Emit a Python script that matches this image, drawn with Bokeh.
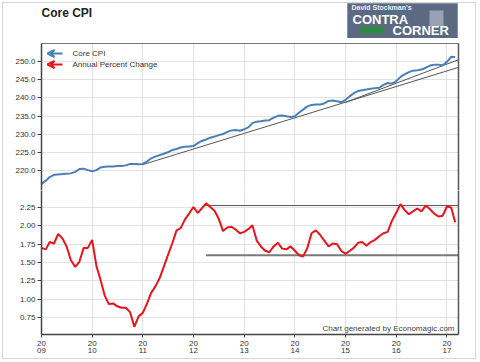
import pandas as pd
from bokeh.plotting import figure
from bokeh.layouts import column
from bokeh.models import (Range1d, FixedTicker, LinearAxis, NumeralTickFormatter, Label,
                          Arrow, VeeHead, BoxAnnotation, CustomJSTickFormatter)
from bokeh.embed import file_html
from bokeh.resources import INLINE

# ---------------- data ----------------
months = pd.date_range("2009-01-01", periods=99, freq="MS")

core_cpi = [
    216.4, 217.3, 218.3, 218.9, 219.0, 219.1, 219.2, 219.3, 219.7, 220.5, 220.6, 220.2,
    219.9, 220.2, 220.9, 221.1, 221.2, 221.2, 221.3, 221.3, 221.5, 221.9, 221.9, 221.8,
    221.9, 222.6, 223.4, 223.9, 224.3, 224.7, 225.1, 225.7, 226.0, 226.4, 226.6, 226.7,
    226.8, 227.6, 228.2, 228.6, 229.1, 229.4, 229.8, 230.1, 230.7, 231.1, 231.2, 231.0,
    231.4, 232.0, 233.1, 233.5, 233.6, 233.8, 233.9, 234.6, 235.1, 235.2, 235.0, 234.8,
    235.0, 236.0, 236.8, 237.7, 238.1, 238.2, 238.2, 238.5, 239.2, 239.3, 239.1, 238.8,
    239.5, 240.5, 241.3, 241.9, 242.1, 242.3, 242.5, 242.7, 242.8, 243.6, 244.1, 243.9,
    244.6, 245.8, 246.5, 247.1, 247.5, 247.6, 247.8, 248.3, 248.9, 249.1, 249.1, 249.0,
    249.9, 251.3, 251.2,
]

annual_pct = [
    1.70, 1.68, 1.78, 1.76, 1.89, 1.83, 1.72, 1.53, 1.44, 1.51, 1.70, 1.70,
    1.81, 1.45, 1.27, 1.05, 0.93, 0.94, 0.90, 0.88, 0.88, 0.82, 0.62, 0.76,
    0.81, 0.94, 1.08, 1.17, 1.28, 1.44, 1.60, 1.76, 1.94, 1.97, 2.09, 2.17,
    2.26, 2.18, 2.24, 2.31, 2.26, 2.21, 2.10, 1.93, 1.98, 1.99, 1.95, 1.90,
    1.92, 1.96, 2.01, 1.80, 1.72, 1.66, 1.64, 1.72, 1.77, 1.69, 1.68, 1.72,
    1.66, 1.60, 1.58, 1.70, 1.90, 1.94, 1.88, 1.80, 1.72, 1.76, 1.75, 1.66,
    1.62, 1.66, 1.70, 1.77, 1.78, 1.73, 1.78, 1.81, 1.86, 1.90, 1.92, 2.07,
    2.18, 2.30, 2.22, 2.16, 2.20, 2.24, 2.20, 2.28, 2.23, 2.17, 2.13, 2.14,
    2.27, 2.25, 2.05,
]

trend_a_dates = pd.to_datetime(["2011-01-01", "2017-03-25"])
trend_a_vals = [221.7, 248.4]
trend_b_dates = pd.to_datetime(["2015-01-01", "2017-03-25"])
trend_b_vals = [238.8, 250.5]
pct_high_dates = pd.to_datetime(["2012-03-10", "2017-03-25"])
pct_high_vals = [2.28, 2.28]
pct_low_dates = pd.to_datetime(["2012-04-01", "2017-03-31"])
pct_low_vals = [1.60, 1.60]

year_ticks = [pd.Timestamp(f"{y}-01-01").timestamp() * 1000 for y in range(2009, 2018)]
cpi_ticks = [220, 225, 230, 235, 240, 245, 250]
pct_ticks = [0.75, 1.00, 1.25, 1.50, 1.75, 2.00, 2.25]

# ---------------- styling ----------------
FONT = "Liberation Sans"
BLUE = "#4a7fb8"
RED = "#e8141c"
GRID = "#e2e2e2"
AXIS = "#444444"
W = 478
LEFT = 41
RIGHT = 20

x_range = Range1d(pd.Timestamp("2009-01-01"), pd.Timestamp("2017-03-25"))


def style_left_axis(ax, ticks, fmt):
    ax.ticker = FixedTicker(ticks=ticks)
    ax.formatter = NumeralTickFormatter(format=fmt)
    ax.major_label_text_font = FONT
    ax.major_label_text_font_size = "8px"
    ax.major_label_text_color = "#333333"
    ax.axis_line_color = AXIS
    ax.axis_line_width = 1.5
    ax.major_tick_line_color = AXIS
    ax.major_tick_out = 4
    ax.major_tick_in = 0
    ax.minor_tick_line_color = None
    ax.major_label_standoff = 2


def border_axis(color, width=1.2):
    return LinearAxis(ticker=FixedTicker(ticks=[]), major_label_text_font_size="0px",
                      major_tick_line_color=None, minor_tick_line_color=None,
                      axis_line_color=color, axis_line_width=width,
                      major_label_standoff=0, major_tick_out=0, major_tick_in=0)


def sbox(fig, l, r, b, t, **kw):
    fig.add_layout(BoxAnnotation(left=l, right=r, bottom=b, top=t,
                                 left_units="screen", right_units="screen",
                                 bottom_units="screen", top_units="screen", **kw))


def slabel(fig, x, y, text, size, color, bold=False, align="left"):
    fig.add_layout(Label(x=x, y=y, x_units="screen", y_units="screen", text=text,
                         text_font=FONT, text_font_size=size,
                         text_font_style="bold" if bold else "normal",
                         text_color=color, text_baseline="middle", text_align=align))


# ---------------- header (title + logo); frame aligned with the plots ----------------
hdr = figure(width=W, height=38, x_range=Range1d(0, 1), y_range=Range1d(0, 1),
             x_axis_location=None, y_axis_location=None,
             output_backend="svg", toolbar_location=None,
             min_border_left=LEFT, min_border_right=RIGHT, min_border_top=0, min_border_bottom=0)
hdr.outline_line_color = None
hdr.grid.visible = False
hdr.background_fill_color = None
hdr.border_fill_color = None
slabel(hdr, 0, 26, "Core CPI", "12px", "#222222", bold=True)
sbox(hdr, 306, 416, 0, 35, fill_color="#5b6a82", fill_alpha=1.0, line_color="#3c4a5e", line_width=1)
sbox(hdr, 388, 402, 12, 28, fill_color="#d5d9e1", fill_alpha=0.5, line_color=None)
sbox(hdr, 319, 343, 5, 12, fill_color="#2f8a43", fill_alpha=1.0, line_color=None)
slabel(hdr, 310, 31, "David Stockman's", "7px", "#eef1f7", bold=True)
slabel(hdr, 311, 19, "CONTRA", "13px", "white", bold=True)
slabel(hdr, 351, 8, "CORNER", "13px", "white", bold=True)

# ---------------- top panel ----------------
p1 = figure(width=W, height=152, x_range=x_range, y_range=Range1d(214.6, 254.95),
            x_axis_type="datetime", x_axis_location=None,
            output_backend="svg", toolbar_location=None,
            min_border_left=LEFT, min_border_right=RIGHT, min_border_top=5, min_border_bottom=0)
p1.outline_line_color = None
p1.border_fill_color = None
p1.xgrid.ticker = FixedTicker(ticks=year_ticks)
p1.xgrid.grid_line_color = GRID
p1.ygrid.grid_line_color = GRID
style_left_axis(p1.yaxis[0], cpi_ticks, "0.0")
p1.ygrid.ticker = FixedTicker(ticks=cpi_ticks)
p1.add_layout(border_axis("#777777"), "above")
p1.add_layout(border_axis("#555555", 1.5), "right")

p1.line(trend_a_dates, trend_a_vals, line_color="#555555", line_width=1)
p1.line(trend_b_dates, trend_b_vals, line_color="#555555", line_width=1)
p1.line(months, core_cpi, line_color=BLUE, line_width=2)

# legend (arrows pointing to the left axis)
for yy, col in ((137, BLUE), (126, RED)):
    p1.add_layout(Arrow(end=VeeHead(size=7, line_color=col, line_width=2, fill_color=None),
                        x_start=21, y_start=yy, x_end=6, y_end=yy,
                        start_units="screen", end_units="screen",
                        line_color=col, line_width=2))
slabel(p1, 31, 137, "Core CPI", "8px", "#333333")
slabel(p1, 31, 126, "Annual Percent Change", "8px", "#333333")

# ---------------- bottom panel ----------------
p2 = figure(width=W, height=171, x_range=x_range, y_range=Range1d(0.514, 2.486),
            x_axis_type="datetime",
            output_backend="svg", toolbar_location=None,
            min_border_left=LEFT, min_border_right=RIGHT, min_border_top=0, min_border_bottom=27)
p2.outline_line_color = None
p2.border_fill_color = None
p2.xgrid.grid_line_color = GRID
p2.ygrid.grid_line_color = GRID
style_left_axis(p2.yaxis[0], pct_ticks, "0.00")
p2.ygrid.ticker = FixedTicker(ticks=pct_ticks)

xa = p2.xaxis[0]
xa.ticker = FixedTicker(ticks=year_ticks)
p2.xgrid.ticker = FixedTicker(ticks=year_ticks)
xa.formatter = CustomJSTickFormatter(code="""
    const y = String(new Date(tick).getUTCFullYear());
    return y.slice(0, 2) + "\\n" + y.slice(2);
""")
xa.major_label_text_font = FONT
xa.major_label_text_font_size = "8px"
xa.major_label_text_color = "#333333"
xa.major_label_text_line_height = 0.85
xa.axis_line_color = AXIS
xa.axis_line_width = 1.5
xa.major_tick_line_color = AXIS
xa.major_tick_out = 3
xa.major_tick_in = 0
xa.minor_tick_line_color = None
xa.major_label_standoff = 1
p2.add_layout(border_axis("#555555", 1.5), "right")

p2.line(pct_low_dates, pct_low_vals, line_color="#7a7a7a", line_width=2)
p2.line(pct_high_dates, pct_high_vals, line_color="#555555", line_width=1)
p2.line(months, annual_pct, line_color=RED, line_width=2)

slabel(p2, 413, 6, "Chart generated by Economagic.com", "8px", "#444444", align="right")

layout = column(hdr, p1, p2, spacing=0,
                styles={"outline": "1px solid #d6d6d6", "outline-offset": "-3px",
                        "background-color": "white"})
open("out.html", "w").write(file_html(layout, INLINE))
